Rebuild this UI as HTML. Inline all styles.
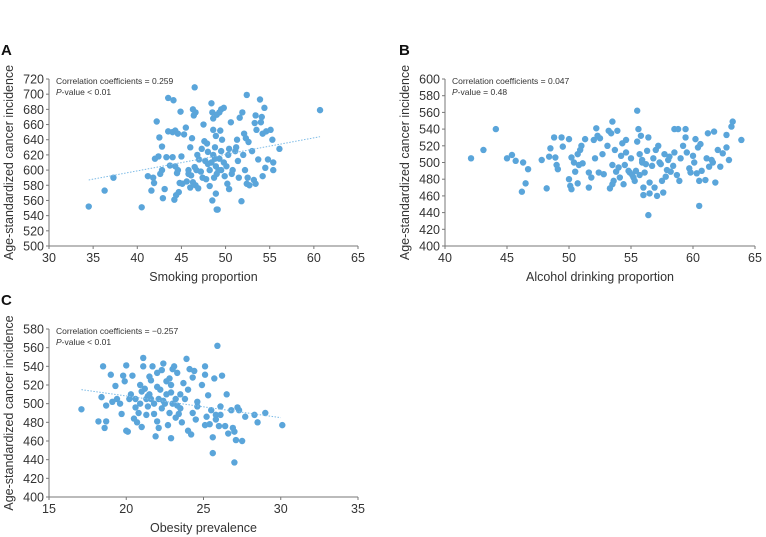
<!DOCTYPE html>
<html><head><meta charset="utf-8"><style>
body{margin:0;background:#fff;}
svg{display:block;font-family:"Liberation Sans",Arial,sans-serif;}
</style></head><body>
<svg id="fig" width="766" height="537" viewBox="0 0 766 537"></svg>
<script>
const smokingX=[34.5,36.3,37.3,40.5,42.2,42.5,42.0,42.4,42.8,42.9,41.6,41.9,41.2,41.8,42.8,43.1,43.3,43.5,44.1,43.5,44.0,44.3,44.6,44.9,44.2,44.4,44.7,44.0,44.3,44.6,45.0,45.3,45.5,44.8,45.1,45.8,46.0,46.2,46.3,46.5,46.6,46.4,46.0,46.3,46.6,46.9,45.8,46.1,46.5,46.8,47.0,47.2,47.3,47.5,47.6,47.8,48.0,48.2,48.4,48.5,48.6,48.2,48.4,48.6,48.8,48.9,49.0,48.7,48.9,48.6,49.0,49.3,49.5,49.8,48.5,48.9,49.0,49.1,49.3,49.5,49.6,49.8,49.5,49.9,50.1,50.2,50.4,50.3,50.4,50.6,50.8,51.1,51.3,51.4,51.6,51.9,51.8,52.1,52.3,52.4,52.0,52.2,52.4,52.5,52.7,52.6,53.0,53.2,53.4,53.3,53.4,53.5,53.7,53.9,54.0,54.1,54.2,54.4,54.6,54.2,54.5,54.8,55.1,55.3,55.4,55.4,56.1,60.7,51.2,50.7,47.7,47.9,49.4,51.5,48.0,48.8,49.2,47.4,46.7,45.6,44.5,43.7,42.6];
const smokingY=[552,573,590,551,664,643,615,618,600,563,573,583,592,590,631,575,617,695,692,651,650,652,648,677,561,567,571,617,605,600,618,647,656,583,582,595,630,642,680,709,676,672,577,584,580,576,600,593,604,620,614,598,628,660,638,588,624,579,688,676,668,600,610,620,630,605,595,590,645,653,673,676,680,682,560,569,548,548,615,625,640,610,600,592,605,582,575,620,628,663,600,625,640,612,669,676,559,648,642,699,620,600,582,590,580,637,625,587,582,662,672,653,614,693,663,670,648,682,651,592,603,614,653,640,610,600,628,679,630,595,612,635,652,590,608,615,600,590,600,585,596,606,595];
const alcoholX=[42.1,43.1,44.1,45.0,45.4,45.7,46.2,46.3,46.5,46.7,47.8,48.2,48.4,48.5,48.8,48.9,49.0,49.1,49.4,49.5,50.0,50.0,50.1,50.2,50.2,50.4,50.5,50.7,50.7,50.8,50.9,51.0,51.1,51.3,51.6,51.6,51.8,52.0,52.1,52.2,52.3,52.4,52.5,52.7,52.8,53.1,53.2,53.3,53.4,53.5,53.5,53.5,53.6,53.7,53.9,53.8,54.0,54.1,54.2,54.3,54.4,54.5,54.6,54.6,54.9,55.0,55.2,55.3,55.4,55.5,55.5,55.6,55.7,55.7,55.8,55.9,56.0,56.0,56.1,56.3,56.4,56.4,56.5,56.5,56.7,56.8,56.9,57.0,57.1,57.2,57.3,57.5,57.6,57.7,57.9,58.0,58.2,58.4,58.5,58.5,58.7,58.8,58.9,59.0,59.2,59.4,59.4,59.7,59.8,60.0,60.1,60.2,60.4,60.5,60.5,60.6,60.7,61.0,61.1,61.2,61.3,61.5,61.7,61.8,62.0,62.2,62.4,62.7,62.7,62.9,63.1,63.2,63.9,57.4,58.1,56.2,55.1,54.8,59.5,60.3,61.6,57.8,55.9];
const alcoholY=[505,515,540,505,509,502,465,500,475,492,503,469,507,517,530,506,497,492,530,519,528,480,472,468,506,500,489,510,475,497,515,520,499,528,488,470,482,527,505,541,532,488,529,510,486,520,538,469,535,549,497,474,478,515,538,489,494,482,508,523,474,497,527,512,488,505,482,478,490,525,562,540,510,485,532,500,470,461,488,514,530,437,463,476,496,505,470,515,460,520,500,478,464,510,491,503,489,496,540,512,485,540,478,505,520,540,530,493,488,508,500,528,518,478,448,522,490,479,505,535,495,503,537,476,515,495,511,518,533,503,543,549,527,498,507,498,485,490,512,487,500,483,503];
const obesityX=[17.1,18.2,18.4,18.5,18.6,18.7,18.7,19.0,19.1,19.3,19.4,19.6,19.7,19.8,19.9,20.0,20.0,20.1,20.2,20.3,20.4,20.5,20.6,20.7,20.8,20.9,21.0,21.1,21.1,21.2,21.3,21.4,21.5,21.6,21.7,21.8,21.9,22.0,22.0,22.1,22.2,22.3,22.4,22.5,22.6,22.7,22.8,22.9,22.9,23.0,23.1,23.2,23.3,23.4,23.5,23.6,23.7,23.9,24.0,24.0,24.1,24.2,24.3,24.4,24.5,24.6,24.9,25.1,25.1,25.2,25.3,25.4,25.5,25.6,25.6,25.7,25.8,25.8,25.9,26.0,26.1,26.2,26.4,26.5,26.6,26.8,26.9,27.0,27.0,27.1,27.2,27.3,27.5,27.7,28.3,28.5,29.0,30.1,21.5,21.8,22.1,22.3,22.6,21.0,21.3,22.8,23.2,23.8,24.6,20.9,22.0,21.6,22.4,23.0,23.5,24.3,20.6,25.1,26.1,21.4,22.9,23.3];
const obesityY=[494,481,507,540,474,498,481,531,502,519,505,500,489,530,524,471,541,470,505,510,530,484,496,480,490,520,475,549,540,516,505,497,529,525,540,489,465,481,533,474,515,536,543,500,524,477,527,520,463,537,540,505,533,489,495,480,522,548,515,471,537,467,528,535,483,502,520,540,531,486,509,478,493,447,464,527,483,488,562,476,497,530,476,510,468,493,474,470,437,461,496,493,460,486,488,480,490,477,510,500,505,495,510,513,488,490,485,505,497,500,518,505,503,500,510,490,505,477,488,508,512,498];
const xTicksA=[30,35,40,45,50,55,60,65];
const yTicksA=[500,520,540,560,580,600,620,640,660,680,700,720];
const xTicksB=[40,45,50,55,60,65];
const yTicksB=[400,420,440,460,480,500,520,540,560,580,600];
const xTicksC=[15,20,25,30,35];
const yTicksC=[400,420,440,460,480,500,520,540,560,580];
const trendA=[[34.5,587],[60.7,644]];
const trendC=[[17.1,515],[30.0,485]];

const NS='http://www.w3.org/2000/svg';
const svg=document.getElementById('fig');
function mk(tag,attrs,parent){const e=document.createElementNS(NS,tag);for(const k in attrs)e.setAttribute(k,attrs[k]);(parent||svg).appendChild(e);return e;}

function panel(id,L,R,T,B,xT,yT,xs,ys,trend,letter,stat1,stat2,xTitle,lx,ly){
  const g=mk('g',{});
  
  
  const x0=xT[0],x1=xT[xT.length-1],y0=yT[0],y1=yT[yT.length-1];
  const sx=v=>L+(v-x0)/(x1-x0)*(R-L);
  const sy=v=>B-(v-y0)/(y1-y0)*(B-T);
  const lt=mk('text',{x:lx,y:ly,'font-size':15,'font-weight':'bold',fill:'#111'},g);lt.textContent=letter;
  
  
  const ax=mk('path',{d:`M${L},${T} V${B} H${R}`,stroke:'#777',fill:'none','stroke-width':1},g);
  
  
  xT.forEach(v=>{const x=sx(v);mk('line',{x1:x,x2:x,y1:B,y2:B+3,stroke:'#777'},g);
    const t=mk('text',{x:x,y:B+16,'font-size':12.5,'text-anchor':'middle',fill:'#333'},g);t.textContent=v;
    
    });
  yT.forEach(v=>{const y=sy(v);mk('line',{x1:L-3,x2:L,y1:y,y2:y,stroke:'#777'},g);
    const t=mk('text',{x:L-5,y:y+4.5,'font-size':12.5,'text-anchor':'end',fill:'#333'},g);t.textContent=v;
    
    });
  const yt=mk('text',{transform:`translate(${L-36},${(T+B)/2}) rotate(-90)`,'font-size':12.5,'text-anchor':'middle',fill:'#333'},g);
  yt.textContent='Age-standardized cancer incidence';
  
  
  const xt=mk('text',{x:(L+R)/2,y:B+35,'font-size':12.5,'text-anchor':'middle',fill:'#333'},g);
  xt.textContent=xTitle;
  
  
  const s1=mk('text',{x:L+7,y:T+5,'font-size':8.5,fill:'#333'},g);s1.textContent=stat1;
  
  
  const s2=mk('text',{x:L+7,y:T+16,'font-size':8.5,fill:'#333'},g);
  s2.innerHTML='<tspan font-style="italic">P</tspan>'+stat2;
  
  
  for(let i=0;i<xs.length;i++){
    const c=mk('circle',{cx:sx(xs[i]),cy:sy(ys[i]),r:3.2,fill:'#5aa5da'},g);
    
    
  }
  if(trend){
    const tl=mk('line',{x1:sx(trend[0][0]),y1:sy(trend[0][1]),x2:sx(trend[1][0]),y2:sy(trend[1][1]),stroke:'#7dbbe6','stroke-width':1,'stroke-dasharray':'1.5,1.5'},g);
    
    
  }
}
panel('a',49,358,79,246,xTicksA,yTicksA,smokingX,smokingY,trendA,'A','Correlation coefficients = 0.259','-value < 0.01','Smoking proportion',1,55);
panel('b',445,755,79,246,xTicksB,yTicksB,alcoholX,alcoholY,null,'B','Correlation coefficients = 0.047','-value = 0.48','Alcohol drinking proportion',399,55);
panel('c',49,358,329,497,xTicksC,yTicksC,obesityX,obesityY,trendC,'C','Correlation coefficients = \u22120.257','-value < 0.01','Obesity prevalence',1,305);
</script>
</body></html>
